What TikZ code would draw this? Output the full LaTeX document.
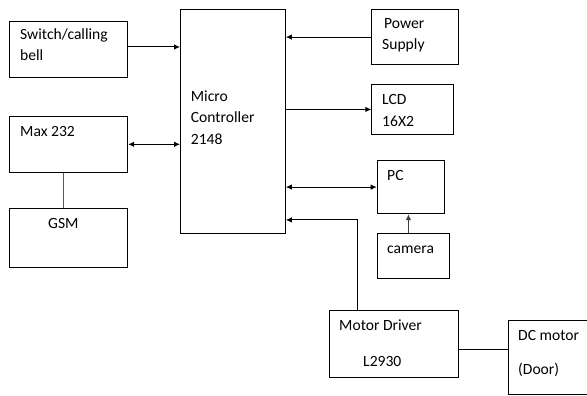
\documentclass[tikz,border=0pt]{standalone}
\usepackage{fontspec}
\setmainfont{Carlito}
\usetikzlibrary{arrows.meta,positioning,calc}

\begin{document}
\begin{tikzpicture}[x=1pt,y=-1pt,
    box/.style={draw, line width=0.9pt, inner sep=0pt, anchor=north west},
    txt/.style={anchor=base west, inner sep=0pt, font=\fontsize{15.6}{18}\selectfont},
    arr/.style={line width=0.9pt, -{Latex[length=6pt,width=5.5pt]}},
    darr/.style={line width=0.9pt, {Latex[length=6pt,width=5.5pt]}-{Latex[length=6pt,width=5.5pt]}}]
    \useasboundingbox (0,0) rectangle (587,396);

    % Blocks
    \node[box, minimum width=118pt, minimum height=56.6pt] (sw) at (9.3,20.7) {};
    \node[box, minimum width=118pt, minimum height=55.7pt] (max) at (9.3,116) {};
    \node[box, minimum width=118pt, minimum height=59.6pt] (gsm) at (9.3,207.7) {};
    \node[box, minimum width=105pt, minimum height=224pt] (mc) at (180,9) {};
    \node[box, minimum width=87pt, minimum height=55.3pt] (pwr) at (371.3,9) {};
    \node[box, minimum width=81.7pt, minimum height=50.6pt] (lcd) at (371.3,83.7) {};
    \node[box, minimum width=67.6pt, minimum height=53.3pt] (pc) at (376.7,160) {};
    \node[box, minimum width=72pt, minimum height=44.4pt] (cam) at (376.7,233.3) {};
    \node[box, minimum width=129.6pt, minimum height=67.3pt] (drv) at (328.7,310) {};
    \node[box, minimum width=90pt, minimum height=74.3pt] (dc) at (507.7,320) {};

    % Labels
    \node[txt] (swa) at ([shift={(10.7,19.3)}]sw.north west) {Switch/calling};
    \node[txt] (swb) at ([shift={(10.7,40.3)}]sw.north west) {bell};
    \node[txt] (maxa) at ([shift={(10.7,20)}]max.north west) {Max 232};
    \node[txt] (gsma) at ([shift={(38.7,20.3)}]gsm.north west) {GSM};
    \node[txt] (mca) at ([shift={(10.7,93)}]mc.north west) {Micro};
    \node[txt] (mcb) at ([shift={(10.7,114)}]mc.north west) {Controller};
    \node[txt] (mcc) at ([shift={(10.7,136)}]mc.north west) {2148};
    \node[txt] (pwra) at ([shift={(12.7,20)}]pwr.north west) {Power};
    \node[txt] (pwrb) at ([shift={(10.7,41)}]pwr.north west) {Supply};
    \node[txt] (lcda) at ([shift={(10.7,21.3)}]lcd.north west) {LCD};
    \node[txt] (lcdb) at ([shift={(10.7,42.3)}]lcd.north west) {16X2};
    \node[txt] (pca) at ([shift={(10.3,20)}]pc.north west) {PC};
    \node[txt] (cama) at ([shift={(10.3,19.7)}]cam.north west) {camera};
    \node[txt] (drva) at ([shift={(10.3,20)}]drv.north west) {Motor Driver};
    \node[txt] (drvb) at ([shift={(34.3,56)}]drv.north west) {L2930};
    \node[txt] (dca) at ([shift={(10.3,20)}]dc.north west) {DC motor};
    \node[txt] (dcb) at ([shift={(10.3,54.5)}]dc.north west) {(Door)};

    % Connections
    \draw[arr] ([yshift=2.5pt]sw.east) coordinate (s1) -- (s1 -| mc.west);
    \draw[darr] (max.east) -- (max.east -| mc.west);
    \draw[line width=0.9pt, gray!70!black] ([xshift=-5.6pt]max.south) -- ([xshift=-5.6pt]gsm.north);
    \draw[arr] (pwr.west) -- (pwr.west -| mc.east);
    \draw[arr] (lcd.west -| mc.east) -- (lcd.west);
    \draw[darr] (pc.west -| mc.east) -- (pc.west);
    \draw[arr, gray!50!black] ([xshift=-4.7pt]cam.north) coordinate (c1) -- (c1 |- pc.south);
    \draw[arr] ([xshift=28.3pt]drv.north west) |- ([yshift=14pt]mc.south east);
    \draw[line width=0.9pt] ([yshift=-5pt]drv.east) coordinate (d1) -- (d1 -| dc.west);
\end{tikzpicture}
\end{document}
